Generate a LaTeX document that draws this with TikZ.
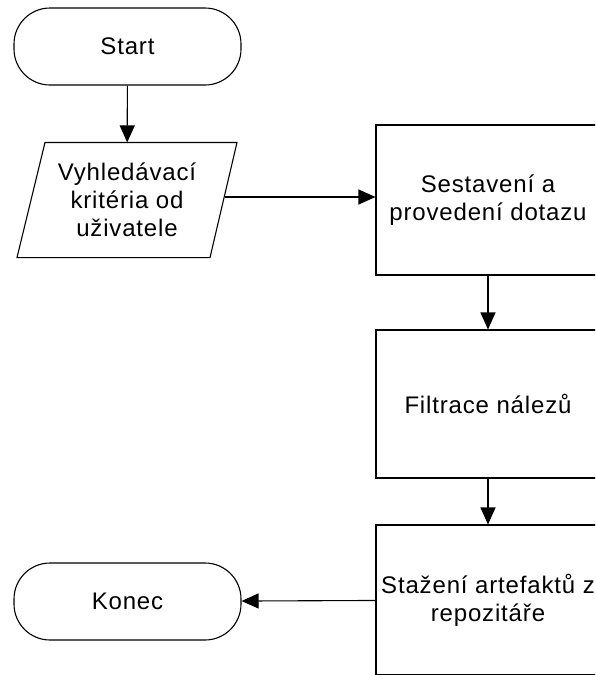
\documentclass[tikz,border=0pt]{standalone}
\usepackage{fontspec}
\setmainfont{Liberation Sans}[LetterSpace=3.5]
\usetikzlibrary{arrows.meta}
\begin{document}
\begin{tikzpicture}[x=1pt,y=-1pt,
  every node/.style={font=\fontsize{24}{28}\selectfont, align=center, inner sep=0pt},
  terminal/.style={draw, rounded corners=36pt, minimum width=227pt, minimum height=77pt},
  process/.style={draw, minimum width=224pt, minimum height=150pt},
  io/.style={minimum width=194pt, minimum height=114pt},
  flow/.style={-{Triangle[length=17pt,width=15pt]}},
  line width=1.1pt]
\useasboundingbox (0,0) rectangle (595,675);
\clip (0,0) rectangle (595,675);

% terminals
\node[terminal] (start) at (127.5,46.5) {Start};
\node[terminal] (konec) at (127.5,601.5) {Konec};

% input (parallelogram drawn around a plain node)
\node[io] (input) at (127,200) {Vyhledávací\\kritéria od\\uživatele};
\draw ([xshift=-82pt]input.north) -- ([xshift=110pt]input.north)
   -- ([xshift=83pt]input.south) -- ([xshift=-110pt]input.south) -- cycle;

% processing steps
\node[process] (query) at (488,200) {Sestavení a\\provedení dotazu};
\node[process, minimum height=148pt] (filter) at (488,404) {Filtrace nálezů};
\node[process] (fetch) at (488,600) {Stažení artefaktů z\\repozitáře};

% connectors
\draw[flow] (start) -- (input);
\draw[flow] ([yshift=3pt]input.east) -- ([yshift=3pt]query.west);
\draw[flow] (query) -- (filter);
\draw[flow] (filter) -- (fetch);
\draw[flow] (fetch) -- (konec);
\end{tikzpicture}
\end{document}
